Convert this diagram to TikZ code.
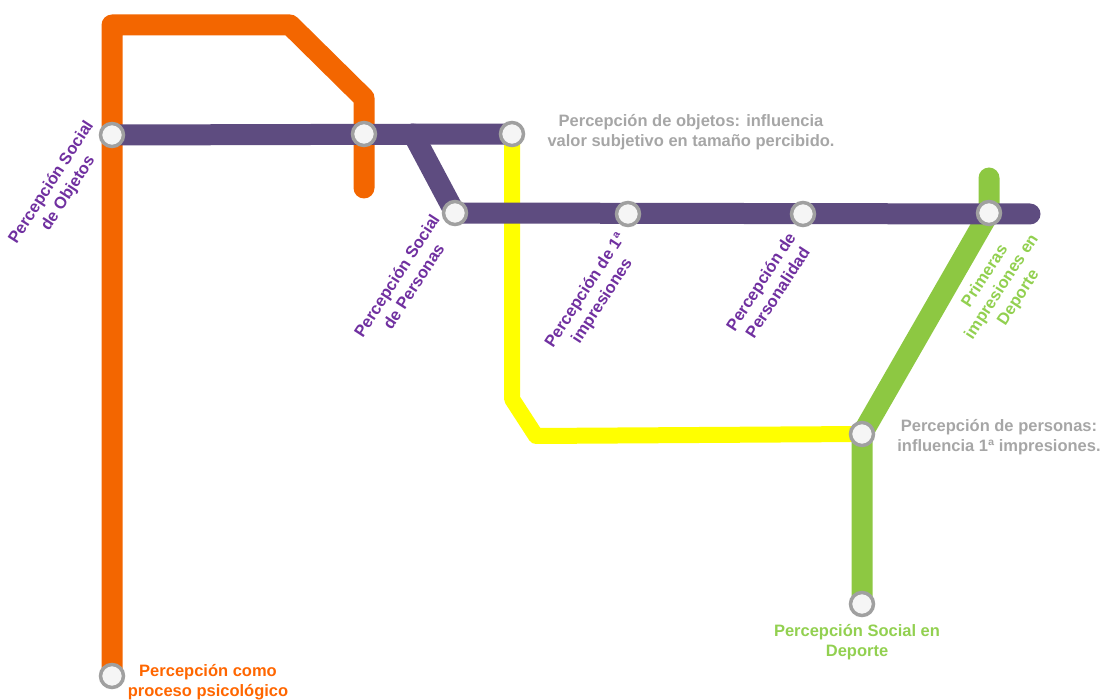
\documentclass[tikz,border=0pt]{standalone}
\usepackage{fontspec}
\setmainfont{Liberation Sans}
\usetikzlibrary{calc}
\pgfdeclarelayer{bg}
\pgfsetlayers{bg,main}
\definecolor{lnorange}{RGB}{243,102,0}
\definecolor{lnpurple}{RGB}{94,76,128}
\definecolor{lngreen}{RGB}{141,200,66}
\definecolor{lnyellow}{RGB}{255,255,0}
\definecolor{txpurple}{RGB}{112,48,160}
\definecolor{txgreen}{RGB}{146,208,80}
\definecolor{txgray}{RGB}{166,166,166}
\definecolor{txorange}{RGB}{255,102,0}
\definecolor{stgray}{RGB}{160,160,160}

\begin{document}
\begin{tikzpicture}[x=1pt,y=-1pt,
st/.style={circle,draw=stgray,fill=white!96!black,line width=3.5pt,minimum size=23pt,inner sep=0pt},
lbl/.style={font=\fontsize{16.5}{20}\selectfont\bfseries,align=center,inner sep=0pt},
pl/.style={lbl,text=txpurple,rotate=57},
track/.style={line width=21pt,line cap=round,line join=round}]
	\useasboundingbox (0,0) rectangle (1103,700);
	%stations
	\node[st] at (112,135) (ob) {};
	\node[st] at (364,134) (cr) {};
	\node[st] at (512,134) (vs) {};
	\node[st] at (455,213) (pe) {};
	\node[st] at (628,214) (im) {};
	\node[st] at (803,214) (pz) {};
	\node[st] at (989,213) (pd) {};
	\node[st] at (862,434) (pp) {};
	\node[st] at (862,604) (sd) {};
	\node[st] at (112,676) (pc) {};
	%bends
	\coordinate (o1) at (112,25);
	\coordinate (o2) at (290,25);
	\coordinate (o3) at (364,98);
	\coordinate (o4) at (364,188);
	\coordinate (b1) at (413,134);
	\coordinate (b2) at (1030,214);
	\coordinate (y1) at (512,399);
	\coordinate (y2) at (536,436);
	\coordinate (g1) at (989,178);
	%lines
	\begin{pgfonlayer}{bg}
	\draw[track,lnorange] (pc.center) -- (o1) -- (o2) -- (o3) -- (o4);
	\draw[track,line width=16pt,lnyellow] (vs.center) -- (y1) -- (y2) -- (pp.center);
	\draw[track,lngreen] (sd.center) -- (pp.center) -- (pd.center) -- (g1);
	\draw[track,lnpurple] (ob.center) -- (vs.center);
	\draw[track,lnpurple] (b1) -- (pe.center) -- (b2);
	\end{pgfonlayer}
	%labels
	\node[pl] at (60,188) (lob) {Percepción Social\\de Objetos};
	\node[pl] at (405,281) (lpe) {Percepción Social\\de Personas};
	\node[pl] at (594,296) (lim) {Percepción de 1ª\\impresiones};
	\node[pl] at (769,287) (lpz) {Percepción de\\Personalidad};
	\node[lbl,text=txgreen,rotate=57] at (1002,287) (lpd) {Primeras\\impresiones en\\Deporte};
	\node[lbl,text=txgray] at (691,132) (lvs) {Percepción de objetos: influencia\\valor subjetivo en tamaño percibido.};
	\node[lbl,text=txgray] at (999,437) (lpp) {Percepción de personas:\\influencia 1ª impresiones.};
	\node[lbl,text=txgreen] at (857,642) (lsd) {Percepción Social en\\Deporte};
	\node[lbl,text=txorange] at (208,682) (lpc) {Percepción como\\proceso psicológico};
\end{tikzpicture}
\end{document}
